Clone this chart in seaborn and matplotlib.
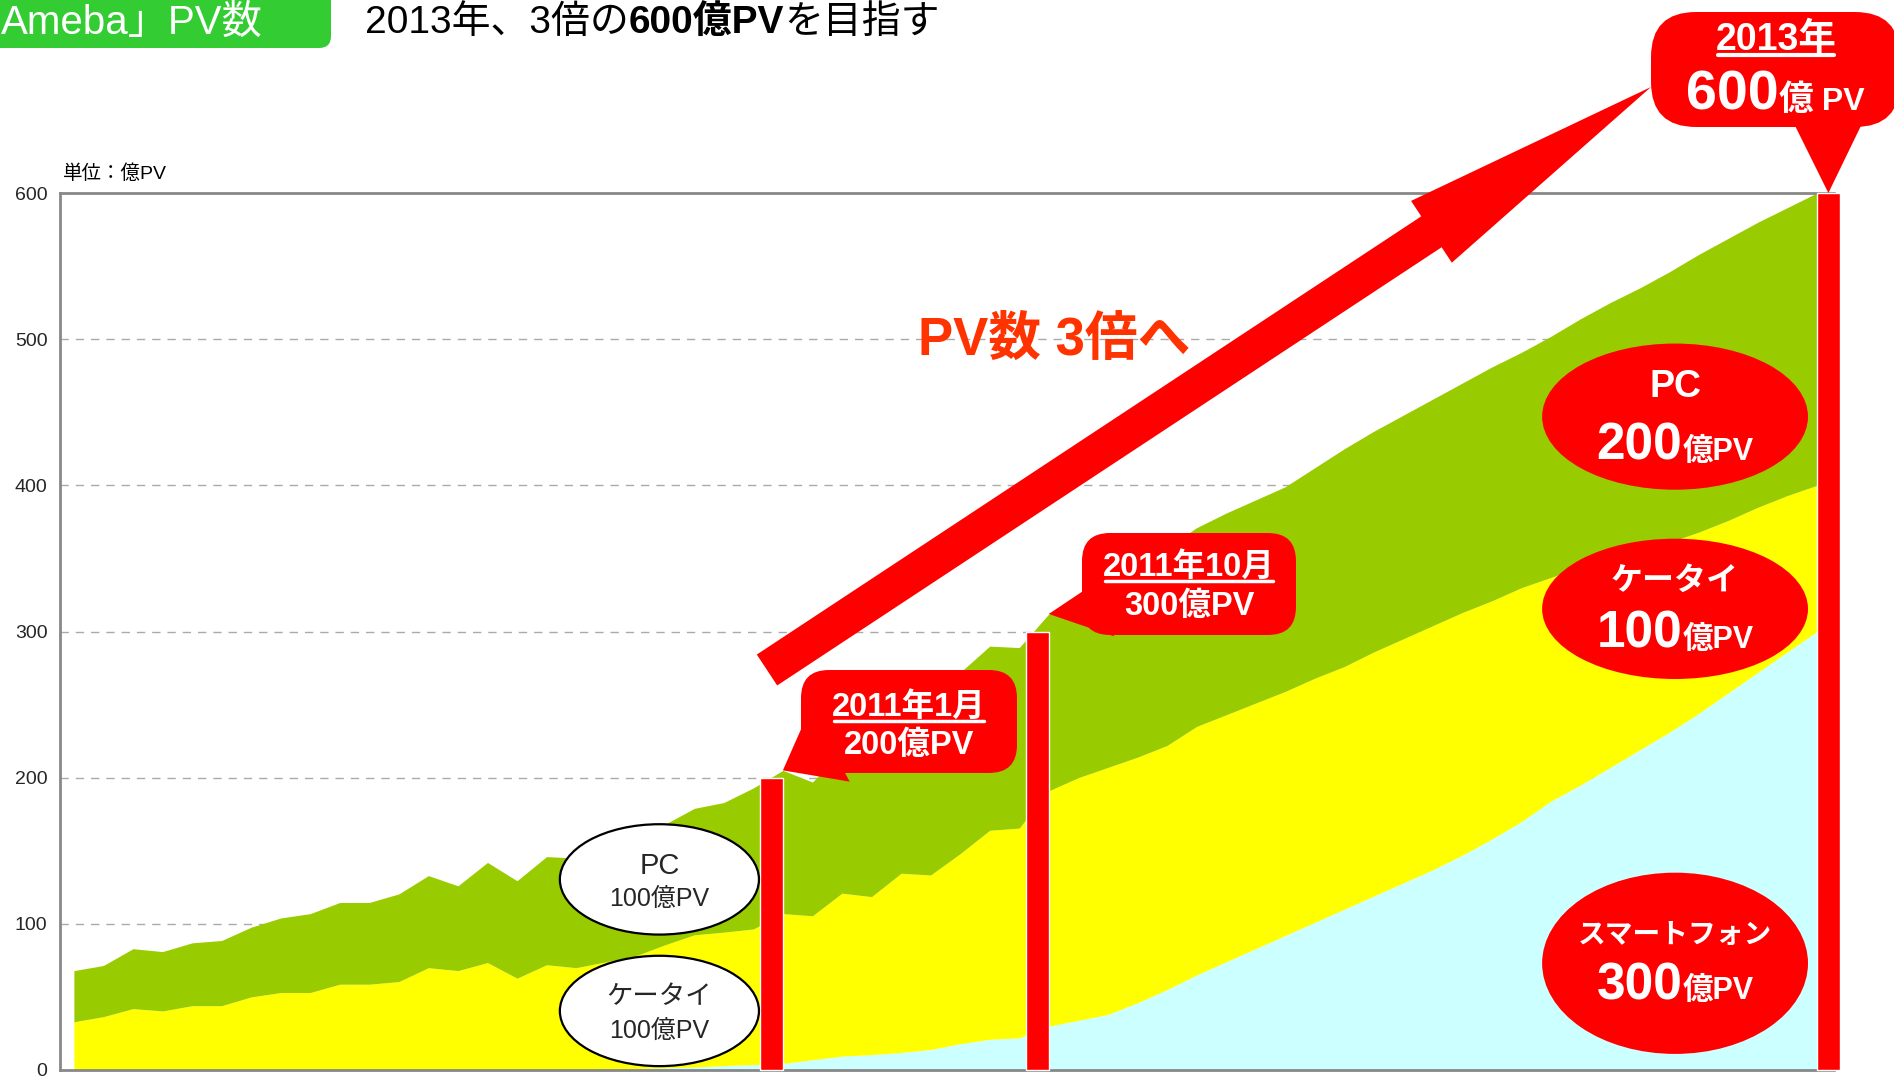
import numpy as np
import pandas as pd
import matplotlib
matplotlib.use('Agg')
import matplotlib.pyplot as plt
import seaborn as sns
from matplotlib.patches import Ellipse, FancyBboxPatch, FancyArrow
from matplotlib.lines import Line2D
from matplotlib.transforms import IdentityTransform

# 月別PV（億PV） 2009年1月〜2013年12月
months = pd.date_range('2009-01-01', '2013-12-01', freq='MS')

smartphone = [0] * 19 + [
    1, 1.5, 2, 3, 3.7, 4.5, 7, 9.5, 10.5, 12, 14, 18, 21, 22, 30,
    34, 38, 46, 55, 65, 74, 83, 92, 101, 110, 119, 128, 137, 147, 158,
    170, 184, 195, 207, 219, 231, 244, 258, 272, 286, 300]
keitai = [
    33, 36.5, 42, 40.4, 44, 44, 50, 53, 53, 58.7, 58.7, 60.5, 70, 68, 73.5,
    62.8, 72, 70, 74,
    77, 84.1, 90.5, 91.3, 92.8, 102.5, 98.5, 111.5, 108.1, 122.6, 119.4,
    130, 143, 143.5, 161,
    166, 169, 168, 167, 170, 169, 168, 167, 167, 166, 167, 167, 167, 166,
    163, 160, 153, 149, 143, 137, 130, 124, 118, 113, 107, 100]
pc = [
    35, 35, 41, 40.6, 43, 44.6, 47.7, 51, 54, 55.9, 55.9, 60, 63, 58, 68.5,
    66.7, 74, 75, 76,
    80, 82.4, 86.5, 88.7, 96.5, 98, 91.5, 97, 107.4, 105.4, 121.6, 124,
    126, 123.5, 121,
    122, 125, 129, 135, 136, 138, 139, 140, 144, 149, 151, 153, 155, 157,
    160, 161, 165, 170, 175, 179, 185, 190, 193, 195, 197, 200]

series_names = ['スマートフォン', 'ケータイ', 'PC']
series_colors = ['#ccffff', '#ffff00', '#99cc00']

# 節目
milestone_month = ['2011-01-01', '2011-10-01', '2013-12-01']
milestone_label = ['2011年1月', '2011年10月', '2013年']
milestone_pv = [200, 300, 600]

yticks = [0, 100, 200, 300, 400, 500, 600]

df = pd.DataFrame({'スマートフォン': smartphone, 'ケータイ': keitai, 'PC': pc}, index=months)
total = df.sum(axis=1)

sns.set_style('white')
plt.rcParams['font.family'] = ['Liberation Sans', 'Noto Sans CJK JP']

W, H = 1894, 1078
fig = plt.figure(figsize=(W / 100, H / 100), dpi=100)
ax = fig.add_axes([60 / W, 8 / H, 1774 / W, 877 / H])
idt = IdentityTransform()

x = np.arange(len(df))
ax.stackplot(x, *[df[c] for c in series_names], colors=series_colors, lw=0)

ax.set_xlim(-0.47, 59.58)
ax.set_ylim(0, 600)
ax.set_xticks([])
ax.set_yticks(yticks)
ax.tick_params(axis='y', labelsize=14, length=0, pad=9)
ax.yaxis.grid(True, ls=(0, (6, 5)), color='#aaaaaa', lw=1)
ax.set_axisbelow(True)
for s in ['left', 'top', 'bottom']:
    ax.spines[s].set_color('#888888')
    ax.spines[s].set_linewidth(2)
ax.spines['right'].set_visible(False)

# 節目の赤い棒
mi = [df.index.get_loc(pd.Timestamp(m)) for m in milestone_month]
bar_w = [-0.78, -0.78, 0.78]
ax.bar(mi, milestone_pv, width=bar_w, align='edge',
       color='red', zorder=5, clip_on=False)

rend = fig.canvas.get_renderer()


def run_text(pieces, x0, y0, ha='left', color='black', z=10):
    # 基準線をそろえて文字列を横に並べる（座標は画面ピクセル）
    ts = [fig.text(0, 0, s, fontsize=fs, fontweight=fw, color=color,
                   va='baseline', ha='left', transform=idt, zorder=z)
          for s, fs, fw in pieces]
    ws = [t.get_window_extent(rend).width for t in ts]
    if ha == 'center':
        x0 = x0 - sum(ws) / 2
    elif ha == 'right':
        x0 = x0 - sum(ws)
    for t, w in zip(ts, ws):
        t.set_position((x0, y0))
        x0 += w
    return ts


def px(xp, yp):
    # 上原点のピクセル → 画面座標
    return xp, H - yp


def data_px(xd, yd, dy=0):
    p = ax.transData.transform((xd, yd))
    return p[0], p[1] + dy


underlines = []

# タイトル部
fig.add_artist(FancyBboxPatch((-40, H - 48), 371, 100,
                              boxstyle='round,pad=0,rounding_size=12',
                              fc='#33cc33', ec='none', transform=idt, zorder=8))
run_text([('Ameba」PV数', 29, 'normal')], *px(1, 34), color='white')
run_text([('2013年、3倍の', 28, 'normal'), ('600億PV', 28, 'bold'),
          ('を目指す', 28, 'normal')], *px(365, 33))
run_text([('単位：億PV', 14, 'normal')], *px(63, 179))

# 白い楕円（現在の内訳）
for cy, name in [(130.4, 'PC'), (40.4, 'ケータイ')]:
    ax.add_patch(Ellipse((19.82, cy), 6.74, 75.5, fc='white', ec='black',
                         lw=1.6, zorder=6))
    ax.text(19.82, cy + 9.5, name, fontsize=21 if name == 'PC' else 19,
            ha='center', va='center', zorder=7)
    ax.text(19.82, cy - 13.5, '100億PV', fontsize=18, ha='center',
            va='center', zorder=7)

# 赤い楕円（2013年の内訳）
red_ell = [('PC', 447, 100, 27, 20.5, -29.6),
           ('ケータイ', 315.5, 96, 23, 18.4, -26.5),
           ('スマートフォン', 73, 124, 20, 18.7, -24.7)]
for name, cy, eh, fs, d1, d2 in red_ell:
    ax.add_patch(Ellipse((54.2, cy), 9.0, eh, fc='red', ec='none', zorder=6))
    ax.text(54.2, cy + d1, name, fontsize=fs, fontweight='bold', color='white',
            ha='center', va='center', zorder=7)
    v = df[name].iloc[-1]
    run_text([(f'{v:.0f}', 37, 'bold'), ('億PV', 22, 'bold')],
             *data_px(54.2, cy + d2), ha='center', color='white')

# 大きな矢印と「PV数 3倍へ」
fig.add_artist(FancyArrow(767, H - 670, 884, 583, width=37, head_width=74,
                          head_length=263, length_includes_head=True,
                          fc='red', ec='none', transform=idt, zorder=6))
run_text([('PV数 3倍へ', 38, 'bold')], *px(918, 355), color='#ff3300')

# 吹き出し
boxes = [(801, 670, 1017, 773, 28), (1082, 533, 1296, 635, 28),
         (1651, 12, 1900, 127, 45)]
bases = [(830, 745), (1110, 606), (1828, 108)]
wedge = [(20, 3.0), (20, 2.2), (25, 2.4)]
for k in range(3):
    x0, y0, x1, y1, r = boxes[k]
    fig.add_artist(FancyBboxPatch((x0, H - y1), x1 - x0, y1 - y0,
                                  boxstyle=f'round,pad=0,rounding_size={r}',
                                  fc='red', ec='none', transform=idt, zorder=7))
    ms, tw = wedge[k]
    tip_x = mi[k] + (bar_w[k] / 2 if bar_w[k] > 0 else 0)
    ax.annotate('', xy=(tip_x, total.iloc[mi[k]]), xycoords='data',
                xytext=px(*bases[k]), textcoords='figure pixels',
                arrowprops=dict(arrowstyle=f'wedge,tail_width={tw},shrink_factor=0.5',
                                fc='red', ec='none', mutation_scale=ms,
                                shrinkA=0, shrinkB=0),
                annotation_clip=False, zorder=7)

t = run_text([(milestone_label[0], 23.5, 'bold')], *px(909, 716), ha='center', color='white')
underlines.append((t[0], 2.5))
run_text([(f'{milestone_pv[0]}億PV', 23.5, 'bold')], *px(909, 754), ha='center', color='white')
t = run_text([(milestone_label[1], 23.5, 'bold')], *px(1189, 576), ha='center', color='white')
underlines.append((t[0], 2.5))
run_text([(f'{milestone_pv[1]}億PV', 23.5, 'bold')], *px(1189, 615), ha='center', color='white')
t = run_text([(milestone_label[2], 27, 'bold')], *px(1776, 50), ha='center', color='white')
underlines.append((t[0], 3))
run_text([(f'{milestone_pv[2]}', 40, 'bold'), ('億', 25, 'bold'), (' PV', 23, 'bold')],
         *px(1775, 110), ha='center', color='white')

# 下線
for tt, lw in underlines:
    bb = tt.get_window_extent(rend)
    yb = tt.get_position()[1] - 5
    fig.add_artist(Line2D([bb.x0 + 2, bb.x1 - 2], [yb, yb], color='white',
                          lw=lw, transform=idt, zorder=11))

fig.savefig('out.png', dpi=100, facecolor='white')
